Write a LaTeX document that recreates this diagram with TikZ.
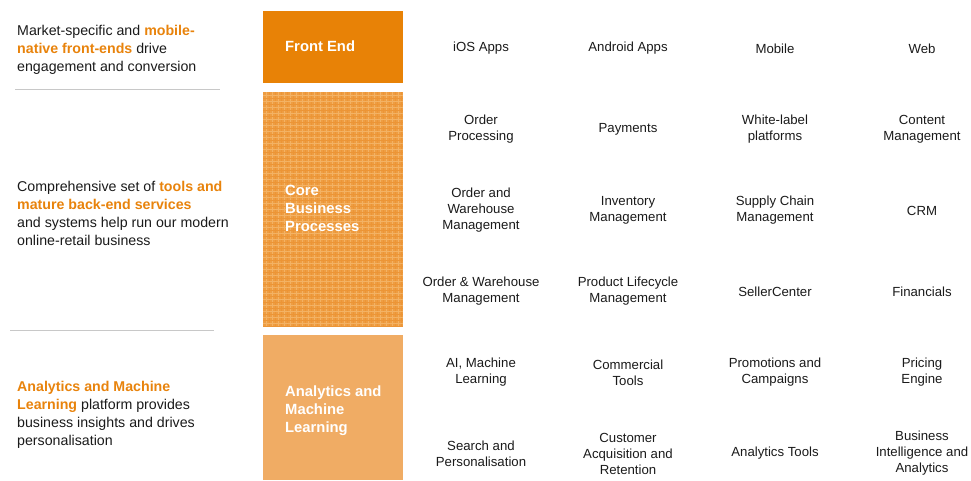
\documentclass[tikz,border=0pt]{standalone}
\usepackage{fontspec}
\setmainfont{Liberation Sans}
\usepackage{xcolor}
\usepackage{tikz}
\usetikzlibrary{calc}
\definecolor{bg}{HTML}{FFFFFF}
\definecolor{ink}{HTML}{1A1A1A}
\definecolor{accent}{HTML}{E8830C}
\definecolor{front}{HTML}{E88206}
\definecolor{core}{HTML}{EE9D42}
\definecolor{coreline}{HTML}{F3B264}
\definecolor{coredark}{HTML}{EC9536}
\definecolor{analytics}{HTML}{F0AC64}
\definecolor{rule}{HTML}{C8C8C8}
\tikzset{
  layer/.style={text=white, font=\fontsize{14.8}{18}\selectfont\bfseries, align=left, anchor=west, inner sep=0pt, yshift=-1.5pt},
  item/.style={text=ink, font=\fontsize{13.2}{16}\selectfont, align=center, inner sep=0pt, yshift=-1.5pt},
  blurb/.style={text=ink, font=\fontsize{14.2}{18}\selectfont, align=left, anchor=west, inner sep=0pt, yshift=-1.5pt},
  sep/.style={draw=rule, line width=1pt},
  hatch/.style={draw=coreline, line width=0.6pt},
  hatchdark/.style={draw=coredark, line width=0.4pt},
}
\newcommand{\hl}[1]{\textcolor{accent}{\bfseries #1}}

\begin{document}
\begin{tikzpicture}[x=1pt,y=-1pt]
  \useasboundingbox (0,0) rectangle (971,480);
  % layer boxes
  \fill[front] (263,11) rectangle (403,83);
  \fill[core] (263,92) rectangle (403,326);
  \foreach \x in {266,272,...,400} {
    \draw[hatch] (\x,92) -- (\x,326);
    \draw[hatchdark] (\x+3,92) -- (\x+3,326);
  }
  \foreach \y in {95,101,...,323} {
    \draw[hatch] (263,\y) -- (403,\y);
    \draw[hatchdark] (263,\y+3) -- (403,\y+3);
  }
  \fill[analytics] (263,335) rectangle (403,480);
  \node[layer] (front) at (285,45) {Front End};
  \node[layer] (core) at (285,207) {Core\\Business\\Processes};
  \node[layer] (anl) at (285,409) {Analytics and\\Machine\\Learning};
  % left blurbs
  \node[blurb] (b1) at (17,48) {Market-specific and \hl{mobile-}\\\hl{native front-ends} drive\\engagement and conversion};
  \draw[sep] (15,89) -- (220,89);
  \node[blurb] (b2) at (17,212) {Comprehensive set of \hl{tools and}\\\hl{mature back-end services}\\and systems help run our modern\\online-retail business};
  \draw[sep] (10,330) -- (214,330);
  \node[blurb] (b3) at (17,413) {\hl{Analytics and Machine}\\\hl{Learning} platform provides\\business insights and drives\\personalisation};
  % front end row
  \node[item] (ios) at (481,47) {iOS Apps};
  \node[item] (android) at (628,47) {Android Apps};
  \node[item] (mobile) at (775,47) {Mobile};
  \node[item] (web) at (922,47) {Web};
  % core rows
  \node[item] (order) at (481,128) {Order\\Processing};
  \node[item] (pay) at (628,128) {Payments};
  \node[item] (white) at (775,128) {White-label\\platforms};
  \node[item] (content) at (922,128) {Content\\Management};
  \node[item] (whs) at (481,209) {Order and\\Warehouse\\Management};
  \node[item] (inv) at (628,209) {Inventory\\Management};
  \node[item] (supply) at (775,209) {Supply Chain\\Management};
  \node[item] (crm) at (922,209) {CRM};
  \node[item] (owm) at (481,290) {Order \& Warehouse\\Management};
  \node[item] (plm) at (628,290) {Product Lifecycle\\Management};
  \node[item] (seller) at (775,290) {SellerCenter};
  \node[item] (fin) at (922,290) {Financials};
  % analytics rows
  \node[item] (ai) at (481,371) {AI, Machine\\Learning};
  \node[item] (tools) at (628,371) {Commercial\\Tools};
  \node[item] (promo) at (775,371) {Promotions and\\Campaigns};
  \node[item] (pricing) at (922,371) {Pricing\\Engine};
  \node[item] (search) at (481,452) {Search and\\Personalisation};
  \node[item] (acq) at (628,452) {Customer\\Acquisition and\\Retention};
  \node[item] (atools) at (775,452) {Analytics Tools};
  \node[item] (bi) at (922,452) {Business\\Intelligence and\\Analytics};
\end{tikzpicture}
\end{document}
